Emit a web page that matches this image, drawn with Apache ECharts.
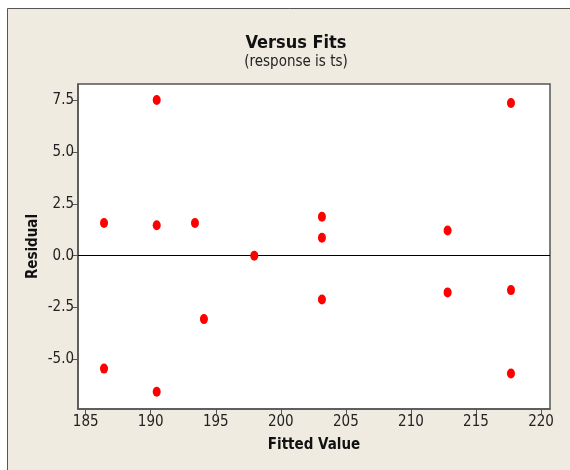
<!DOCTYPE html>
<html>
<head>
<meta charset="utf-8">
<script src="https://cdn.jsdelivr.net/npm/echarts@6/dist/echarts.min.js"></script>
<style>
html,body{margin:0;padding:0;background:#ffffff;}
#c{width:570px;height:470px;}
</style>
</head>
<body>
<div id="c"></div>
<script>
const fittedValues = [186.41, 186.41, 190.46, 190.46, 190.46, 193.40, 194.09, 197.96, 203.16, 203.16, 203.16, 212.82, 212.82, 217.69, 217.69, 217.69];
const residuals    = [1.58, -5.45, 7.52, 1.47, -6.57, 1.58, -3.06, 0.00, 1.88, 0.87, -2.11, 1.22, -1.77, 7.37, -1.66, -5.69];
const xTicks = [185, 190, 195, 200, 205, 210, 215, 220];
const yTicks = [-5.0, -2.5, 0.0, 2.5, 5.0, 7.5];
const referenceLine = 0;

const FONT = '"Liberation Sans Narrow", "DejaVu Sans Condensed", sans-serif';
const chart = echarts.init(document.getElementById('c'));
const points = fittedValues.map((x, i) => [x, residuals[i]]);

chart.setOption({
  backgroundColor: '#ffffff',
  animation: false,
  graphic: [{
    type: 'rect', z: -10, silent: true,
    shape: {x: 7.5, y: 8.5, width: 600, height: 500},
    style: {fill: '#efebe1', stroke: '#555555', lineWidth: 1}
  }],
  title: {
    text: 'Versus Fits',
    subtext: '(response is ts)',
    left: 291, top: 29, textAlign: 'center', itemGap: 3,
    textStyle: {fontFamily: FONT, fontWeight: 'bold', fontSize: 18, color: '#111'},
    subtextStyle: {fontFamily: FONT, fontSize: 15, color: '#222'}
  },
  grid: {
    left: 78, top: 84, right: 20, bottom: 61,
    show: true, backgroundColor: '#ffffff', borderColor: '#555555', borderWidth: 1.5,
    containLabel: false
  },
  xAxis: {
    type: 'value', min: 184.41, max: 220.69,
    name: 'Fitted Value', nameLocation: 'middle', nameGap: 29,
    nameTextStyle: {fontFamily: FONT, fontWeight: 'bold', fontSize: 15, color: '#111'},
    axisLine: {show: true, onZero: false, lineStyle: {color: '#555555', width: 1.5}},
    axisTick: {show: true, length: 5, customValues: xTicks, lineStyle: {color: '#555555'}},
    axisLabel: {customValues: xTicks, margin: 6, fontFamily: FONT, fontSize: 15, color: '#222',
      formatter: v => String(Math.round(v))},
    splitLine: {show: false}
  },
  yAxis: {
    type: 'value', min: -7.40, max: 8.29,
    name: 'Residual', nameLocation: 'middle', nameGap: 37, nameMoveOverlap: false,
    nameTextStyle: {fontFamily: FONT, fontWeight: 'bold', fontSize: 15, color: '#111'},
    axisLine: {show: true, onZero: false, lineStyle: {color: '#555555', width: 1.5}},
    axisTick: {show: true, length: 6, customValues: yTicks, lineStyle: {color: '#555555'}},
    axisLabel: {customValues: yTicks, margin: 4, fontFamily: FONT, fontSize: 15, color: '#222',
      formatter: v => v.toFixed(1)},
    splitLine: {show: false}
  },
  series: [{
    type: 'scatter',
    data: [],
    z: 1,
    markLine: {
      silent: true, symbol: 'none', animation: false,
      label: {show: false},
      lineStyle: {color: '#000000', width: 1, type: 'solid'},
      data: [{yAxis: referenceLine}]
    }
  }, {
    type: 'scatter',
    data: points,
    symbol: 'circle',
    symbolSize: [8, 10],
    itemStyle: {color: '#ff0000', opacity: 1},
    z: 5
  }]
});
</script>
</body>
</html>
